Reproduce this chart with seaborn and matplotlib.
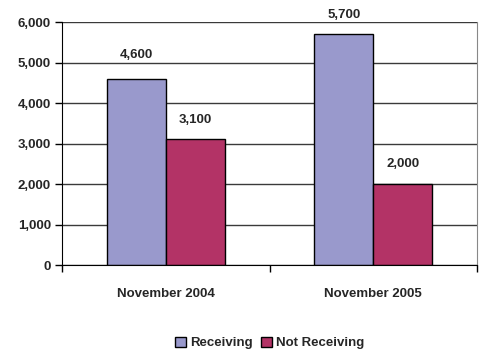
import matplotlib
matplotlib.use("Agg")
import matplotlib.pyplot as plt
import seaborn as sns
import pandas as pd
from matplotlib.ticker import FixedLocator

categories = ["November 2004", "November 2005"]
series = ["Receiving", "Not Receiving"]
receiving = [4600, 5700]
not_receiving = [3100, 2000]
colors = ["#9999CC", "#B33366"]

df = pd.DataFrame({
    "period": categories * 2,
    "status": [series[0]] * 2 + [series[1]] * 2,
    "value": receiving + not_receiving,
})

sns.set_style("white")
plt.rcParams["font.family"] = ["Liberation Sans", "DejaVu Sans"]
plt.rcParams["font.weight"] = "bold"
FS = 9.5

fig = plt.figure(figsize=(4.8, 3.54), dpi=100)
ax = fig.add_axes([62 / 480, 1 - 265 / 354, (477 - 62) / 480, (265 - 22) / 354])

sns.barplot(data=df, x="period", y="value", hue="status", palette=colors,
            width=0.57, edgecolor="black", linewidth=1.0, ax=ax, saturation=1)

ax.set_ylim(0, 6000)
ax.set_xlim(-0.5, 1.5)
ax.set_yticks(range(0, 6001, 1000))
ax.set_yticklabels([f"{v:,}" for v in range(0, 6001, 1000)], fontsize=FS, fontweight="bold")
ax.set_xticks([0, 1])
ax.set_xticklabels(categories, fontsize=FS, fontweight="bold")
ax.set_xlabel("")
ax.set_ylabel("")
ax.yaxis.grid(True, color="#3a3a3a", linewidth=1.0)
ax.set_axisbelow(True)
ax.tick_params(axis="y", which="both", left=True, length=5, width=1, color="black", pad=3)
ax.tick_params(axis="x", which="major", bottom=False, pad=13)
ax.xaxis.set_minor_locator(FixedLocator([-0.5, 0.5, 1.5]))
ax.tick_params(axis="x", which="minor", bottom=True, length=5, width=1, color="black")

ax.spines["top"].set_visible(False)
ax.spines["right"].set_color("#888888")
ax.spines["left"].set_color("black")
ax.spines["bottom"].set_color("black")

pads = [[13, 9.5], [9.5, 10]]
for cont, pad in zip(ax.containers, pads):
    for bar, p in zip(cont, pad):
        h = bar.get_height()
        ax.annotate(f"{h:,.0f}", (bar.get_x() + bar.get_width() / 2, h),
                    xytext=(0, p), textcoords="offset points",
                    ha="center", va="bottom", fontsize=FS, fontweight="bold")

leg = ax.legend(loc="center", bbox_to_anchor=(0.5, -0.322), ncol=2, frameon=False,
                handlelength=0.85, handleheight=0.75, handletextpad=0.3,
                columnspacing=0.6, prop={"weight": "bold", "size": FS})
for h in leg.legend_handles:
    h.set_edgecolor("black")
    h.set_linewidth(1.0)

fig.savefig("out.png", dpi=100)
